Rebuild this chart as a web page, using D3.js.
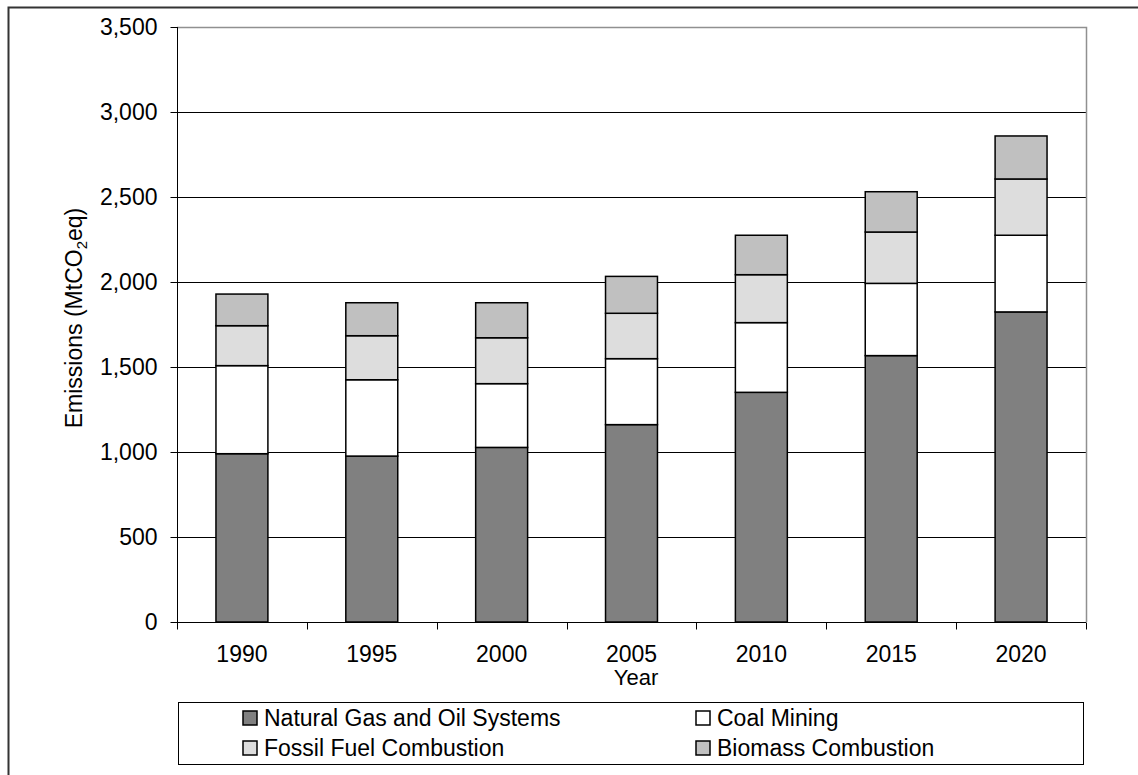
<!DOCTYPE html>
<html lang="en">
<head>
  <meta charset="UTF-8">
  <title>Emissions by source</title>
  <script src="https://d3js.org/d3.v7.min.js"></script>
  <style>
    body {
      margin: 0;
      padding: 0;
      background: #fff;
    }
    svg text {
      font-family: "Liberation Sans", Arial, sans-serif;
      fill: #000;
    }
  </style>
</head>
<body>
  <svg id="chart" width="1138" height="775"></svg>

  <script>
    // data (MtCO2eq)
    const years = ["1990", "1995", "2000", "2005", "2010", "2015", "2020"];
    const naturalGasOil = [990, 976, 1027, 1161, 1351, 1567, 1824];
    const coalMining = [518, 449, 375, 388, 410, 425, 451];
    const fossilFuel = [235, 259, 270, 267, 282, 302, 331];
    const biomass = [186, 194, 206, 217, 232, 237, 253];
    const yTicks = [0, 500, 1000, 1500, 2000, 2500, 3000, 3500];

    const seriesNames = ["Natural Gas and Oil Systems", "Coal Mining", "Fossil Fuel Combustion", "Biomass Combustion"];
    const seriesKeys = ["gas", "coal", "fossil", "biomass"];
    const colors = ["#808080", "#ffffff", "#dddddd", "#c0c0c0"];

    const rows = years.map((y, i) => ({
      year: y,
      gas: naturalGasOil[i],
      coal: coalMining[i],
      fossil: fossilFuel[i],
      biomass: biomass[i]
    }));

    const svg = d3.select("#chart");

    // outer frame (cut off at right and bottom, like the source)
    svg.append("path")
      .attr("d", "M8.5,775 L8.5,7.5 L1138,7.5")
      .attr("fill", "none")
      .attr("stroke", "#333")
      .attr("stroke-width", 2);

    const plot = { left: 177, right: 1086, top: 27, bottom: 622 };

    const x = d3.scaleBand()
      .domain(years)
      .range([plot.left, plot.right])
      .paddingInner(0.6)
      .paddingOuter(0.3);

    const y = d3.scaleLinear()
      .domain([0, 3500])
      .range([plot.bottom, plot.top]);

    const color = d3.scaleOrdinal().domain(seriesKeys).range(colors);

    // gridlines
    svg.append("g")
      .selectAll("line")
      .data(yTicks.filter(t => t > 0 && t < 3500))
      .join("line")
      .attr("x1", plot.left)
      .attr("x2", plot.right)
      .attr("y1", d => Math.round(y(d)) + 0.5)
      .attr("y2", d => Math.round(y(d)) + 0.5)
      .attr("stroke", "#000")
      .attr("stroke-width", 1);

    // plot area border, top and right in gray
    svg.append("path")
      .attr("d", `M${plot.left},${plot.top + 0.5} L${plot.right + 0.5},${plot.top + 0.5} L${plot.right + 0.5},${plot.bottom}`)
      .attr("fill", "none")
      .attr("stroke", "#909090")
      .attr("stroke-width", 1.5);

    // stacked bars
    const stacked = d3.stack().keys(seriesKeys)(rows);

    svg.append("g")
      .selectAll("g")
      .data(stacked)
      .join("g")
      .attr("fill", d => color(d.key))
      .selectAll("rect")
      .data(d => d)
      .join("rect")
      .attr("x", d => x(d.data.year))
      .attr("y", d => y(d[1]))
      .attr("width", x.bandwidth())
      .attr("height", d => y(d[0]) - y(d[1]))
      .attr("stroke", "#000")
      .attr("stroke-width", 1.5);

    // y axis
    const yAxis = svg.append("g")
      .attr("transform", `translate(${plot.left + 0.5},0)`)
      .call(d3.axisLeft(y)
        .tickValues(yTicks)
        .tickSize(7)
        .tickPadding(13)
        .tickFormat(d3.format(",")));
    yAxis.select(".domain").attr("stroke", "#000").attr("d", `M0,${plot.top}V${plot.bottom}`);
    yAxis.selectAll(".tick line").attr("stroke", "#000");
    yAxis.selectAll("text").attr("font-size", 23).attr("fill", "#000");

    // x axis
    const xAxis = svg.append("g")
      .attr("transform", `translate(0,${plot.bottom + 0.5})`)
      .call(d3.axisBottom(x).tickSize(0).tickPadding(23));
    xAxis.select(".domain").attr("stroke", "#000").attr("d", `M${plot.left},0H${plot.right}`);
    xAxis.selectAll("text").attr("font-size", 23).attr("fill", "#000");

    // category boundary ticks
    const step = x.step();
    const boundaries = d3.range(years.length + 1).map(i => plot.left + i * step);
    xAxis.append("g")
      .selectAll("line")
      .data(boundaries)
      .join("line")
      .attr("x1", d => Math.round(d) + 0.5)
      .attr("x2", d => Math.round(d) + 0.5)
      .attr("y1", 0)
      .attr("y2", 7)
      .attr("stroke", "#000");

    // axis titles
    svg.append("text")
      .attr("x", 636)
      .attr("y", 685)
      .attr("text-anchor", "middle")
      .attr("font-size", 22)
      .text("Year");

    const yTitle = svg.append("text")
      .attr("transform", `translate(82,318) rotate(-90)`)
      .attr("text-anchor", "middle")
      .attr("font-size", 23);
    yTitle.append("tspan").text("Emissions (MtCO");
    yTitle.append("tspan").attr("font-size", 15).attr("dy", 5).text("2");
    yTitle.append("tspan").attr("dy", -5).text("eq)");

    // legend
    const legend = svg.append("g");
    legend.append("rect")
      .attr("x", 178.5)
      .attr("y", 702.5)
      .attr("width", 905)
      .attr("height", 62)
      .attr("fill", "#fff")
      .attr("stroke", "#000")
      .attr("stroke-width", 1);

    const legendCols = [243, 696];
    const legendRows = [711, 741];
    const items = legend.selectAll("g.item")
      .data(seriesKeys)
      .join("g")
      .attr("class", "item")
      .attr("transform", (d, i) => `translate(${legendCols[i % 2]},${legendRows[Math.floor(i / 2)]})`);

    items.append("rect")
      .attr("width", 14)
      .attr("height", 14)
      .attr("fill", d => color(d))
      .attr("stroke", "#000")
      .attr("stroke-width", 1.5);

    items.append("text")
      .attr("x", 21)
      .attr("y", 15)
      .attr("font-size", 23)
      .text((d, i) => seriesNames[i]);
  </script>
</body>
</html>
